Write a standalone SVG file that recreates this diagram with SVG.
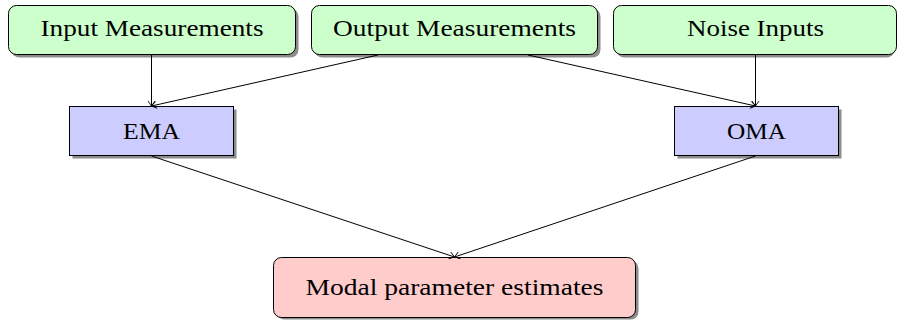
<svg xmlns="http://www.w3.org/2000/svg" width="898" height="320" viewBox="0 0 898 320">
<style>
.t{font-family:"Liberation Serif","DejaVu Serif",serif;font-size:23px;fill:#000;text-anchor:middle}
.g{fill:#ccffcc;stroke:#000;stroke-width:1}
.b{fill:#ccccff;stroke:#000;stroke-width:1}
.r{fill:#ffcccc;stroke:#000;stroke-width:1}
.s{fill:#8c8c8c}
.c{stroke:#000;stroke-width:1;fill:none;marker-end:url(#a)}
</style>
<defs>
<marker id="a" viewBox="-6 -5 7 10" refX="0" refY="0" markerWidth="7" markerHeight="10" markerUnits="userSpaceOnUse" orient="auto">
<path d="M-5,-3.5 Q-1.5,-1 0,0 Q-1.5,1 -5,3.5" fill="none" stroke="#000" stroke-width="0.9"/>
</marker>
</defs>
<rect width="898" height="320" fill="#fff"/>
<g id="input">
<rect class="s" x="11.5" y="8.5" width="287" height="49" rx="8"/>
<rect class="g" x="8.5" y="5.5" width="287" height="49" rx="8"/>
<text class="t" x="152" y="35.5" textLength="223" lengthAdjust="spacingAndGlyphs">Input Measurements</text>
</g>
<g id="output">
<rect class="s" x="314.5" y="8.5" width="286" height="49" rx="8"/>
<rect class="g" x="311.5" y="5.5" width="286" height="49" rx="8"/>
<text class="t" x="454.5" y="35.5" textLength="243" lengthAdjust="spacingAndGlyphs">Output Measurements</text>
</g>
<g id="noise">
<rect class="s" x="616.5" y="8.5" width="278" height="49" rx="8"/>
<rect class="g" x="613.5" y="5.5" width="283" height="49" rx="8"/>
<text class="t" x="755.5" y="35.5" textLength="137" lengthAdjust="spacingAndGlyphs">Noise Inputs</text>
</g>
<g id="ema">
<rect class="s" x="72.5" y="109.5" width="164" height="49"/>
<rect class="b" x="69.5" y="106.5" width="164" height="49"/>
<text class="t" x="151.5" y="138.5" textLength="57" lengthAdjust="spacingAndGlyphs">EMA</text>
</g>
<g id="oma">
<rect class="s" x="677.5" y="109.5" width="164" height="49"/>
<rect class="b" x="674.5" y="106.5" width="164" height="49"/>
<text class="t" x="756.5" y="138.5" textLength="59" lengthAdjust="spacingAndGlyphs">OMA</text>
</g>
<g id="modal">
<rect class="s" x="276.5" y="260.5" width="362" height="59" rx="8"/>
<rect class="r" x="273.5" y="257.5" width="362" height="60" rx="8"/>
<text class="t" x="454.5" y="294.5" textLength="298" lengthAdjust="spacingAndGlyphs">Modal parameter estimates</text>
</g>
<g id="connectors">
<line class="c" x1="151.5" y1="55" x2="151.5" y2="106"/>
<line class="c" x1="378" y1="55" x2="151.5" y2="106"/>
<line class="c" x1="528" y1="55" x2="755.5" y2="106"/>
<line class="c" x1="755.5" y1="55" x2="755.5" y2="106"/>
<line class="c" x1="151.5" y1="156" x2="454.5" y2="257"/>
<line class="c" x1="755.5" y1="156" x2="454.5" y2="257"/>
</g>
</svg>
